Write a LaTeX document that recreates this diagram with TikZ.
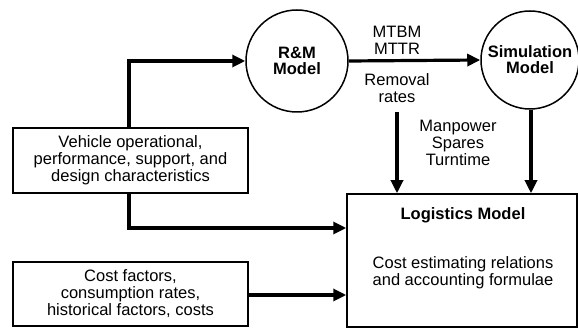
\documentclass[tikz,border=0pt]{standalone}
\usepackage{fontspec}
\setmainfont{Liberation Sans}
\usetikzlibrary{arrows.meta,calc}
\begin{document}
\begin{tikzpicture}[x=1pt,y=-1pt,
  txt/.style={font=\fontsize{16.5}{17}\selectfont, align=center, inner sep=0pt},
  bold/.style={txt, font=\fontsize{16.5}{16.5}\selectfont\bfseries},
  boxnode/.style={draw, line width=1.5pt, inner sep=0pt, align=center, font=\fontsize{16.5}{17}\selectfont},
  circnode/.style={draw, circle, line width=1.5pt, inner sep=0pt, align=center, font=\fontsize{16.5}{16}\selectfont\bfseries},
  flow/.style={line width=3.2pt, -{Triangle[length=13pt,width=12pt]}}]
\useasboundingbox (0,0) rectangle (578,328);
\node[circnode, minimum size=102pt] (rm) at (297,61) {R\&M\\Model};
\node[circnode, minimum size=98pt] (sim) at (530,60) {Simulation\\Model};
\node[boxnode, minimum width=235pt, minimum height=65pt] (veh) at (130.5,160.5) {Vehicle operational,\\performance, support, and\\design characteristics};
\node[boxnode, minimum width=235pt, minimum height=64pt] (cost) at (130.5,294) {Cost factors,\\consumption rates,\\historical factors, costs};
\node[boxnode, minimum width=230pt, minimum height=133pt] (log) at (462,260.5) {};
\node[bold] (logt) at (463,215) {Logistics Model};
\node[txt] (logd) at (463,273) {Cost estimating relations\\and accounting formulae};
\node[txt] (mt) at (397,40) {MTBM\\MTTR};
\node[txt] (rem) at (397,88) {Removal\\rates};
\node[txt] (mps) at (458,143) {Manpower\\Spares\\Turntime};
\coordinate (remout) at (397,112);
\draw[flow] ([xshift=-1.5pt]veh.north) |- (rm.west);
\draw[flow] ([xshift=-1.5pt]veh.south) |- ([yshift=32.5pt]log.west);
\draw[flow] ([yshift=-1pt]cost.east) -- ([yshift=-1pt]cost.east -| log.west);
\draw[flow] (rm.east) -- (sim.west);
\draw[flow] (remout) -- (remout |- log.north);
\draw[flow] ([xshift=1pt]sim.south) -- ([xshift=1pt]sim.south |- log.north);
\end{tikzpicture}
\end{document}
